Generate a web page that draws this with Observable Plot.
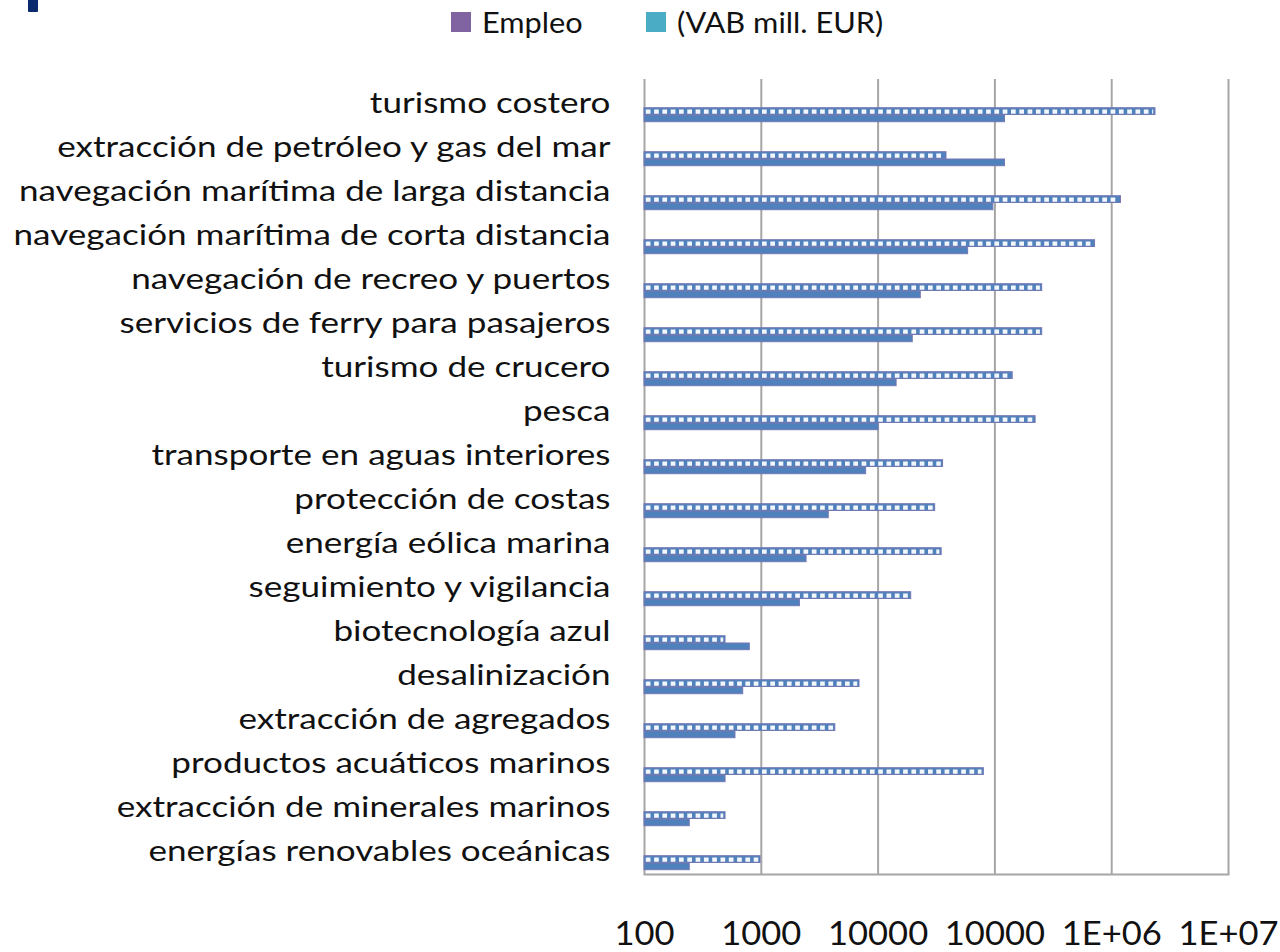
<!DOCTYPE html>
<html><head><meta charset="utf-8">
<script src="https://cdn.jsdelivr.net/npm/d3@7"></script>
<script src="https://cdn.jsdelivr.net/npm/@observablehq/plot@0.6"></script>
<style>
body{margin:0;background:#fff;font-family:Lato,"Open Sans",sans-serif;}
#wrap{position:relative;width:1280px;height:952px;overflow:hidden;background:#fff}
#mark{position:absolute;left:28px;top:0;width:10px;height:12px;background:#0b2a6e;border-radius:0 0 1px 1px}
#legend{position:relative;height:45px}
.sw{position:absolute;width:20px;height:20px;top:12px}
.lt{position:absolute;top:4px;font-size:29px;line-height:36px;color:#111;transform:scaleX(1.06);transform-origin:0 50%;white-space:nowrap}
</style></head><body>
<div id="wrap">
<div id="mark"></div>
<div id="legend"></div>
<div id="chart"></div>
</div>
<script>
const categories = [
  "turismo costero",
  "extracción de petróleo y gas del mar",
  "navegación marítima de larga distancia",
  "navegación marítima de corta distancia",
  "navegación de recreo y puertos",
  "servicios de ferry para pasajeros",
  "turismo de crucero",
  "pesca",
  "transporte en aguas interiores",
  "protección de costas",
  "energía eólica marina",
  "seguimiento y vigilancia",
  "biotecnología azul",
  "desalinización",
  "extracción de agregados",
  "productos acuáticos marinos",
  "extracción de minerales marinos",
  "energías renovables oceánicas"
];
// Empleo (hatched bars)
const empleo = [2370000, 38500, 1200000, 720000, 254000, 254000, 142000, 223000, 36000, 30800, 35000, 19200, 494, 6930, 4300, 80400, 494, 985];
// VAB mill. EUR (solid bars)
const vab = [122000, 122000, 97000, 59000, 23200, 19800, 14400, 10100, 7900, 3780, 2440, 2140, 797, 700, 601, 494, 244, 244];
const tickValues = [100, 1000, 10000, 100000, 1000000, 10000000];
const tickLabels = ["100", "1000", "10000", "10000", "1E+06", "1E+07"];
const seriesNames = ["Empleo", "(VAB mill. EUR)"];
const seriesColors = ["#8064A2", "#4BACC6"];

// legend
const legend = document.getElementById("legend");
const legPos = [[451, 482], [646, 677]];
seriesNames.forEach((n, i) => {
  const s = document.createElement("div");
  s.className = "sw"; s.style.left = legPos[i][0] + "px"; s.style.background = seriesColors[i];
  legend.appendChild(s);
  const t = document.createElement("div");
  t.className = "lt"; t.style.left = legPos[i][1] + "px"; t.textContent = n;
  legend.appendChild(t);
});

const rows = categories.map((c, i) => ({cat: c, empleo: empleo[i], vab: vab[i]}));
const blue = "#4F81BD", edge = "#7577b3", grid = "#a6a6a6";

const chart = Plot.plot({
  width: 1280, height: 907,
  marginLeft: 644, marginRight: 52, marginTop: 34, marginBottom: 78,
  style: {fontFamily: "Lato, 'Open Sans', sans-serif", background: "white", color: "#111"},
  x: {type: "log", domain: [100, 10000000]},
  y: {type: "band", domain: categories, padding: 0},
  marks: [
    Plot.ruleX(tickValues, {stroke: grid, strokeWidth: 2}),
    Plot.frame({anchor: "bottom", stroke: grid, strokeWidth: 2}),
    Plot.barX(rows, {y: "cat", x1: 100, x2: "vab", fill: blue, stroke: edge, strokeWidth: 1, insetTop: 34, insetBottom: 3.3}),
    Plot.barX(rows, {y: "cat", x1: 100, x2: "empleo", fill: blue, stroke: edge, strokeWidth: 1, insetTop: 26.7, insetBottom: 10.5}),
    Plot.ruleY(rows, {y: "cat", x1: 100, x2: "empleo", stroke: "#f3f7fc", strokeWidth: 4.4, strokeDasharray: "4.7 3.6", dy: 8.1, insetLeft: 1.8, insetRight: 1.8}),
    Plot.axisX(tickValues, {tickSize: 0, tickPadding: 48, fontSize: 32, label: null, fill: "#111",
      tickFormat: d => tickLabels[tickValues.indexOf(d)]}),
    Plot.axisY({tickSize: 0, tickPadding: 34, fontSize: 29, label: null, fill: "#111"})
  ]
});
document.getElementById("chart").appendChild(chart);
// widen category labels horizontally (the reference text is horizontally stretched)
d3.select(chart).selectAll("g[aria-label='y-axis tick label'] text").each(function() {
  const t = this.getAttribute("transform") || "";
  this.setAttribute("transform", t + " scale(1.21,1)");
});
d3.select(chart).selectAll("g[aria-label='x-axis tick label'] text").each(function() {
  const t = this.getAttribute("transform") || "";
  this.setAttribute("transform", t + " scale(1.08,1)");
});
</script>
</body></html>
